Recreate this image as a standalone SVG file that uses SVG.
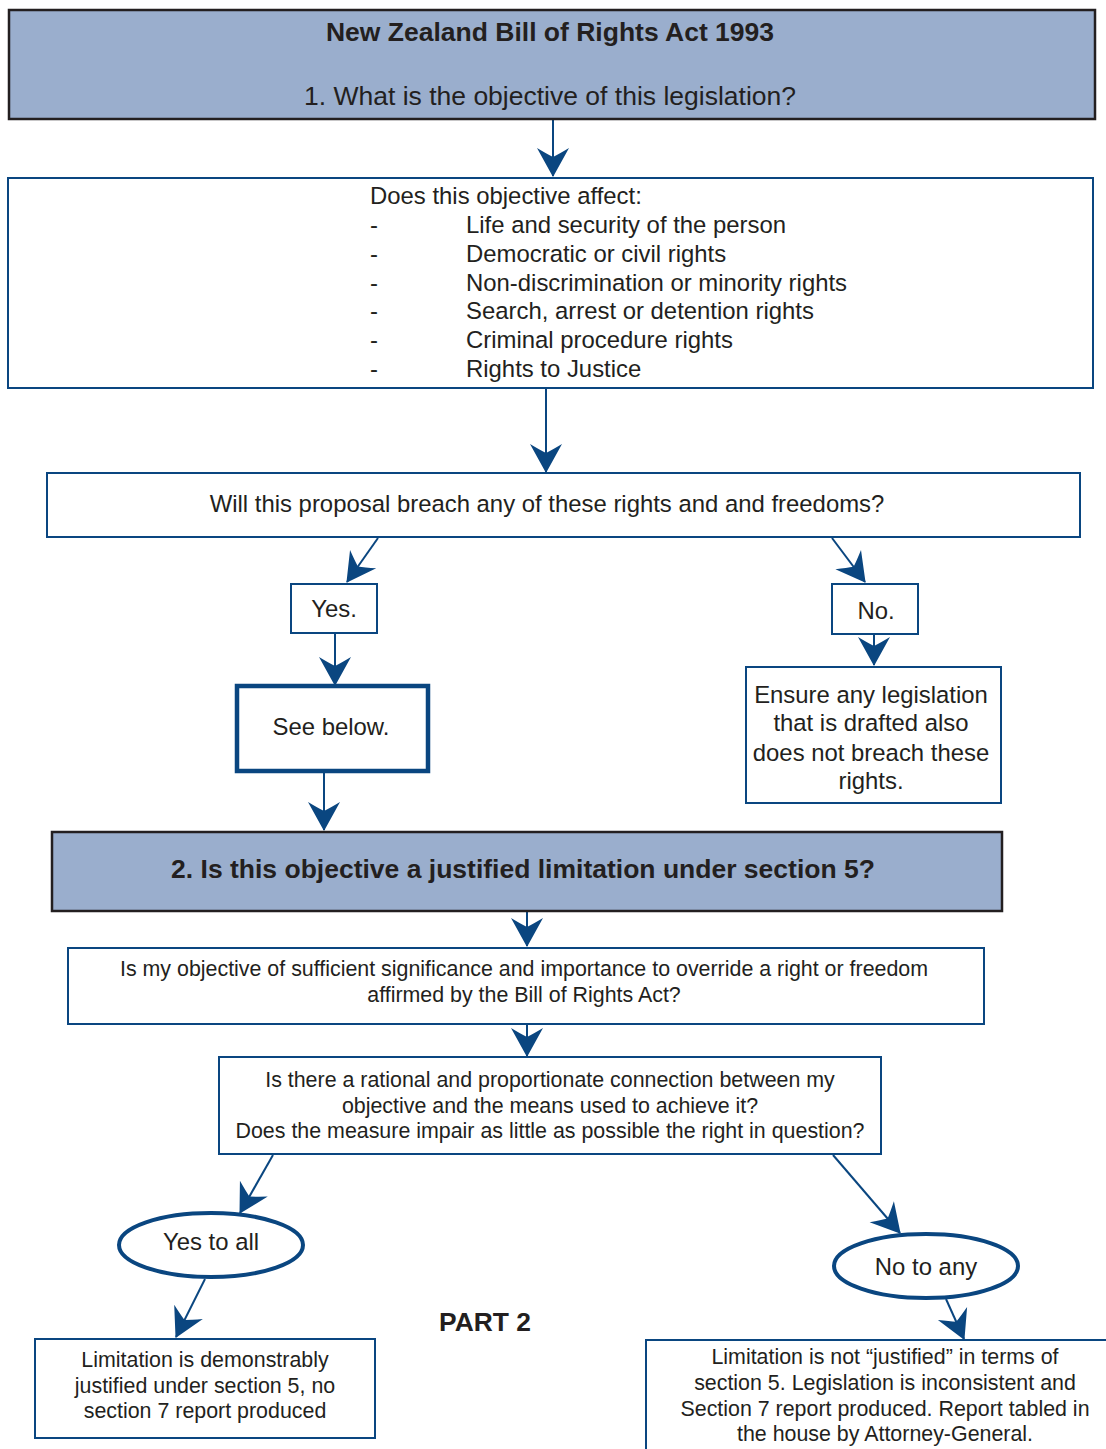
<svg xmlns="http://www.w3.org/2000/svg" width="1106" height="1449" viewBox="0 0 1106 1449">
<style>
text{font-family:"Liberation Sans",Arial,sans-serif;fill:#231f20}
.hdr{fill:#9aaecd;stroke:#231f20;stroke-width:2.5}
.box{fill:#fff;stroke:#0a4680;stroke-width:2}
.thick{fill:#fff;stroke:#0a4680;stroke-width:4.5}
.ell{fill:#fff;stroke:#0a4680;stroke-width:4}
.conn{stroke:#0a4680;stroke-width:2;fill:none;marker-end:url(#ah)}
.c{text-anchor:middle}
.f22{font-size:23.9px}
.f20{font-size:21.4px}
.b{font-weight:bold}
</style>
<defs>
<marker id="ah" markerUnits="userSpaceOnUse" viewBox="-30 -18 32 36" refX="0" refY="0" markerWidth="32" markerHeight="36" orient="auto">
<path d="M1,0 L-28,-16 Q-22,-6 -19,0 Q-22,6 -28,16 Z" fill="#0a4680"/>
</marker>
</defs>
<rect width="1106" height="1449" fill="#fff"/>

<g id="connectors">
<line class="conn" x1="553" y1="119" x2="553" y2="176"/>
<line class="conn" x1="546" y1="389" x2="546" y2="472"/>
<line class="conn" x1="378" y1="538" x2="347" y2="582"/>
<line class="conn" x1="832" y1="538" x2="865" y2="582"/>
<line class="conn" x1="335" y1="634" x2="335" y2="685"/>
<line class="conn" x1="874" y1="635" x2="874" y2="665"/>
<line class="conn" x1="324" y1="772" x2="324" y2="830"/>
<line class="conn" x1="527" y1="912" x2="527" y2="946"/>
<line class="conn" x1="527" y1="1025" x2="527" y2="1056"/>
<line class="conn" x1="273" y1="1155" x2="240" y2="1213"/>
<line class="conn" x1="833" y1="1155" x2="900" y2="1233"/>
<line class="conn" x1="205" y1="1279" x2="176" y2="1337"/>
<line class="conn" x1="946" y1="1299" x2="964" y2="1339"/>
</g>

<g id="n1">
<rect class="hdr" x="9" y="10" width="1086" height="109"/>
<text class="c b" x="550" y="41" font-size="26.5">New Zealand Bill of Rights Act 1993</text>
<text class="c" x="550" y="105" font-size="26.5">1. What is the objective of this legislation?</text>
</g>

<g id="n2">
<rect class="box" x="8" y="178" width="1085" height="210"/>
<text class="f22" x="370" y="204">Does this objective affect:</text>
<text class="f22" x="370" y="233">-</text><text class="f22" x="466" y="233">Life and security of the person</text>
<text class="f22" x="370" y="262">-</text><text class="f22" x="466" y="262">Democratic or civil rights</text>
<text class="f22" x="370" y="291">-</text><text class="f22" x="466" y="291">Non-discrimination or minority rights</text>
<text class="f22" x="370" y="319">-</text><text class="f22" x="466" y="319">Search, arrest or detention rights</text>
<text class="f22" x="370" y="348">-</text><text class="f22" x="466" y="348">Criminal procedure rights</text>
<text class="f22" x="370" y="377">-</text><text class="f22" x="466" y="377">Rights to Justice</text>
</g>

<g id="n3">
<rect class="box" x="47" y="473" width="1033" height="64"/>
<text class="c f22" x="547" y="512">Will this proposal breach any of these rights and and freedoms?</text>
</g>

<g id="yes">
<rect class="box" x="291" y="584" width="86" height="49"/>
<text class="c f22" x="334" y="617">Yes.</text>
</g>

<g id="no">
<rect class="box" x="832" y="584" width="86" height="50"/>
<text class="c f22" x="876" y="619">No.</text>
</g>

<g id="seebelow">
<rect class="thick" x="237" y="686" width="191" height="85"/>
<text class="c f22" x="331" y="735">See below.</text>
</g>

<g id="ensure">
<rect class="box" x="746" y="667" width="255" height="136"/>
<text class="c f22" x="871" y="703">Ensure any legislation</text>
<text class="c f22" x="871" y="731">that is drafted also</text>
<text class="c f22" x="871" y="761">does not breach these</text>
<text class="c f22" x="871" y="789">rights.</text>
</g>

<g id="n4">
<rect class="hdr" x="52" y="832" width="950" height="79"/>
<text class="c b" x="523" y="878" font-size="26.5">2. Is this objective a justified limitation under section 5?</text>
</g>

<g id="n5">
<rect class="box" x="68" y="948" width="916" height="76"/>
<text class="c f20" x="524" y="976">Is my objective of sufficient significance and importance to override a right or freedom</text>
<text class="c f20" x="524" y="1002">affirmed by the Bill of Rights Act?</text>
</g>

<g id="n6">
<rect class="box" x="219" y="1057" width="662" height="97"/>
<text class="c f20" x="550" y="1087">Is there a rational and proportionate connection between my</text>
<text class="c f20" x="550" y="1113">objective and the means used to achieve it?</text>
<text class="c f20" x="550" y="1138">Does the measure impair as little as possible the right in question?</text>
</g>

<g id="yesall">
<ellipse class="ell" cx="211" cy="1245" rx="92" ry="32"/>
<text class="c f22" x="211" y="1250">Yes to all</text>
</g>

<g id="noany">
<ellipse class="ell" cx="926" cy="1266" rx="92" ry="32"/>
<text class="c f22" x="926" y="1275">No to any</text>
</g>

<g id="part2">
<text class="c b" x="485" y="1331" font-size="26.4">PART 2</text>
</g>

<g id="justified">
<rect class="box" x="35" y="1339" width="340" height="99"/>
<text class="c f20" x="205" y="1367">Limitation is demonstrably</text>
<text class="c f20" x="205" y="1393">justified under section 5, no</text>
<text class="c f20" x="205" y="1418">section 7 report produced</text>
</g>

<g id="notjustified">
<rect class="box" x="646" y="1340" width="470" height="120"/>
<text class="c f20" x="885" y="1364">Limitation is not “justified” in terms of</text>
<text class="c f20" x="885" y="1390">section 5. Legislation is inconsistent and</text>
<text class="c f20" x="885" y="1416">Section 7 report produced. Report tabled in</text>
<text class="c f20" x="885" y="1441">the house by Attorney-General.</text>
</g>
</svg>
